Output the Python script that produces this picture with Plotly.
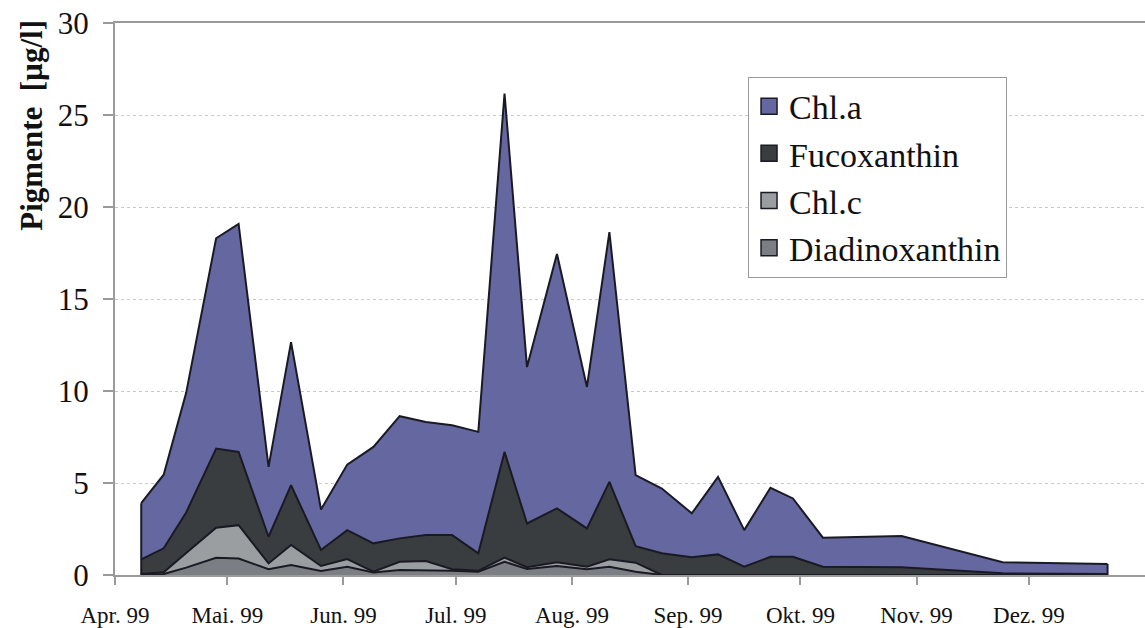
import plotly.graph_objects as go

# ---- data ----
dates = ["1999-04-08", "1999-04-14", "1999-04-20", "1999-04-28", "1999-05-04",
         "1999-05-12", "1999-05-18", "1999-05-26", "1999-06-02", "1999-06-09",
         "1999-06-16", "1999-06-23", "1999-06-30", "1999-07-07", "1999-07-14",
         "1999-07-20", "1999-07-28", "1999-08-05", "1999-08-11", "1999-08-18",
         "1999-08-25", "1999-09-02", "1999-09-09", "1999-09-16", "1999-09-23",
         "1999-09-29", "1999-10-07", "1999-10-28", "1999-11-24", "1999-12-22"]

chl_a = [3.05, 4.00, 6.50, 11.43, 12.39, 3.80, 7.78, 2.20, 3.56, 5.24,
         6.64, 6.15, 5.97, 6.60, 19.48, 8.50, 13.83, 7.69, 13.57, 3.86,
         3.52, 2.39, 4.21, 1.99, 3.75, 3.17, 1.58, 1.70, 0.60, 0.55]
fucoxanthin = [0.80, 1.30, 2.20, 4.30, 3.98, 1.45, 3.25, 0.87, 1.57, 1.54,
               1.27, 1.41, 1.86, 0.95, 5.75, 2.38, 2.93, 2.08, 4.21, 0.90,
               1.18, 0.96, 1.12, 0.45, 0.99, 0.99, 0.45, 0.42, 0.09, 0.05]
chl_c = [0.05, 0.10, 0.80, 1.63, 1.81, 0.32, 1.09, 0.27, 0.42, 0.04,
         0.45, 0.49, 0.08, 0.05, 0.22, 0.09, 0.20, 0.14, 0.40, 0.49,
         0.00, 0.00, 0.00, 0.00, 0.00, 0.00, 0.00, 0.00, 0.00, 0.00]
diadinoxanthin = [0.00, 0.05, 0.40, 0.94, 0.90, 0.31, 0.54, 0.22, 0.45, 0.14,
                  0.27, 0.27, 0.23, 0.18, 0.72, 0.33, 0.49, 0.31, 0.45, 0.18,
                  0.00, 0.00, 0.00, 0.00, 0.00, 0.00, 0.00, 0.00, 0.00, 0.00]

month_ticks = ["1999-04-01", "1999-05-01", "1999-06-01", "1999-07-01", "1999-08-01",
               "1999-09-01", "1999-10-01", "1999-11-01", "1999-12-01"]
month_labels = ["Apr. 99", "Mai. 99", "Jun. 99", "Jul. 99", "Aug. 99",
                "Sep. 99", "Okt. 99", "Nov. 99", "Dez. 99"]
y_ticks = [0, 5, 10, 15, 20, 25, 30]

# ---- styles ----
LINE = "#1a1a24"
COL = {"Chl.a": "#6568a0", "Fucoxanthin": "#3a3d3f",
       "Chl.c": "#9b9ea0", "Diadinoxanthin": "#7b7e82"}
FONT = "Liberation Serif"

fig = go.Figure()

# stacked areas (bottom -> top)
for name, vals in [("Diadinoxanthin", diadinoxanthin), ("Chl.c", chl_c),
                   ("Fucoxanthin", fucoxanthin), ("Chl.a", chl_a)]:
    fig.add_trace(go.Scatter(x=dates, y=vals, name=name, stackgroup="pig",
                             mode="lines", line=dict(color=LINE, width=2),
                             fillcolor=COL[name], showlegend=False,
                             hoverinfo="x+y+name"))

# vertical outline at both ends of the stack
total = [a + b + c + d for a, b, c, d in zip(chl_a, fucoxanthin, chl_c, diadinoxanthin)]
fig.add_trace(go.Scatter(x=[dates[0], dates[0], None, dates[-1], dates[-1]],
                         y=[0, total[0], None, 0, total[-1]],
                         mode="lines", line=dict(color=LINE, width=2),
                         showlegend=False, hoverinfo="skip"))

# legend entries (square swatches)
for i, name in enumerate(["Chl.a", "Fucoxanthin", "Chl.c", "Diadinoxanthin"]):
    fig.add_trace(go.Scatter(x=[None], y=[None], name=name, mode="markers",
                             marker=dict(symbol="square", size=16, color=COL[name],
                                         line=dict(color=LINE, width=1.5)),
                             legendgroup=f"g{i}", showlegend=True))

fig.add_annotation(text="<b>Pigmente  [µg/l]</b>", textangle=-90,
                   xref="paper", yref="paper", x=-0.081, y=0.815,
                   xanchor="center", yanchor="middle", showarrow=False,
                   font=dict(family=FONT, size=31, color="#111111"))

fig.update_layout(
    width=1145, height=628,
    margin=dict(l=115, r=0, t=23, b=53),
    paper_bgcolor="white", plot_bgcolor="white",
    font=dict(family=FONT, color="#111111"),
    legend=dict(x=0.6146, y=0.903, xanchor="left", yanchor="top",
                bgcolor="white", bordercolor="#9a9a9a", borderwidth=1,
                font=dict(family=FONT, size=34, color="#111111"),
                tracegroupgap=0, traceorder="grouped", itemwidth=30),
    xaxis=dict(type="date", range=["1999-04-01", "2000-01-01"],
               tickvals=month_ticks, ticktext=month_labels,
               ticks="outside", ticklen=8, tickcolor="#9a9a9a", tickwidth=1.5,
               showline=True, linecolor="#9a9a9a", linewidth=2, mirror=True,
               showgrid=False, zeroline=False, ticklabelstandoff=10,
               tickfont=dict(family=FONT, size=23, color="#111111")),
    yaxis=dict(range=[0, 30], tickvals=y_ticks,
               ticks="outside", ticklen=10, tickcolor="#9a9a9a", tickwidth=1.5,
               showline=True, linecolor="#9a9a9a", linewidth=2,
               showgrid=True, gridcolor="#c8c8c8", griddash="dot", gridwidth=1,
               zeroline=False, ticklabelstandoff=8,
               tickfont=dict(family=FONT, size=31, color="#111111")),
)

fig.write_html("out.html", include_plotlyjs=True,
               config={"displayModeBar": False},
               post_script="document.body.style.margin='0';document.body.style.overflow='hidden';")
